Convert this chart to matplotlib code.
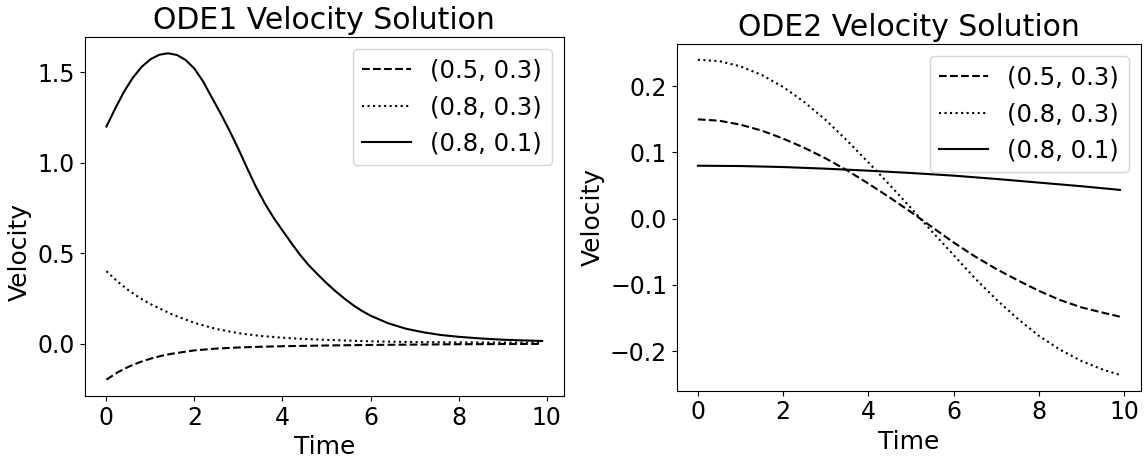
import matplotlib
matplotlib.use("Agg")
import matplotlib.pyplot as plt

# ---------------- data ----------------
labels = ["(0.5, 0.3)", "(0.8, 0.3)", "(0.8, 0.1)"]
styles = ["--", ":", "-"]

# ODE1
t1_a = [0, 0.25, 0.5, 0.75, 1.0, 1.25, 1.5, 2.0, 2.5, 3.0, 3.5, 4.0, 5.0,
        6.0, 7.0, 8.0, 9.0, 9.9]
v1_a = [-0.200, -0.160, -0.129, -0.104, -0.084, -0.068, -0.056, -0.038,
        -0.028, -0.022, -0.018, -0.015, -0.011, -0.008, -0.006, -0.004,
        -0.003, -0.002]
t1_b = [0, 0.25, 0.5, 0.75, 1.0, 1.5, 2.0, 2.5, 3.0, 3.5, 4.0, 4.5, 5.0,
        6.0, 7.0, 8.0, 9.0, 9.9]
v1_b = [0.400, 0.343, 0.295, 0.253, 0.218, 0.160, 0.114, 0.080, 0.057,
        0.042, 0.032, 0.025, 0.020, 0.012, 0.008, 0.006, 0.005, 0.005]
t1_c = [0.0, 0.2, 0.4, 0.6, 0.8, 1.0, 1.2, 1.4, 1.6, 1.8, 2.0, 2.2, 2.4,
        2.6, 2.8, 3.0, 3.2, 3.4, 3.6, 3.8, 4.0, 4.2, 4.4, 4.6, 4.8, 5.0,
        5.2, 5.4, 5.6, 5.8, 6.0, 6.4, 6.8, 7.2, 7.6, 8.0, 8.5, 9.0, 9.5, 9.9]
v1_c = [1.200, 1.300, 1.393, 1.470, 1.530, 1.572, 1.597, 1.605, 1.596,
        1.568, 1.520, 1.448, 1.358, 1.270, 1.175, 1.075, 0.968, 0.865,
        0.774, 0.695, 0.625, 0.556, 0.490, 0.432, 0.382, 0.334, 0.290,
        0.250, 0.213, 0.181, 0.154, 0.112, 0.082, 0.062, 0.047, 0.037,
        0.028, 0.021, 0.017, 0.014]

# ODE2
t2 = [0, 0.5, 1.0, 1.5, 2.0, 2.5, 3.0, 3.5, 4.0, 4.5, 5.0, 5.5, 6.0, 6.5,
      7.0, 7.5, 8.0, 8.5, 9.0, 9.5, 9.9]
v2_a = [0.150, 0.148, 0.142, 0.133, 0.121, 0.107, 0.091, 0.073, 0.053,
        0.032, 0.010, -0.013, -0.036, -0.057, -0.076, -0.093, -0.109,
        -0.123, -0.134, -0.142, -0.148]
v2_b = [0.240, 0.238, 0.230, 0.217, 0.199, 0.176, 0.149, 0.118, 0.085,
        0.051, 0.016, -0.020, -0.055, -0.090, -0.122, -0.151, -0.177,
        -0.198, -0.215, -0.228, -0.236]
t2_c = [0, 1, 2, 3, 4, 5, 6, 7, 8, 9, 9.9]
v2_c = [0.0800, 0.0795, 0.0780, 0.0755, 0.0725, 0.0690, 0.0650, 0.0600,
        0.0545, 0.0490, 0.0435]

titles = ["ODE1 Velocity Solution", "ODE2 Velocity Solution"]

# ---------------- figure ----------------
fig = plt.figure(figsize=(11.47, 4.59), dpi=100)
ax1 = fig.add_axes([0.0738, 0.1373, 0.4179, 0.7821])
ax2 = fig.add_axes([0.5900, 0.1488, 0.4048, 0.7553])

series1 = [(t1_a, v1_a), (t1_b, v1_b), (t1_c, v1_c)]
series2 = [(t2, v2_a), (t2, v2_b), (t2_c, v2_c)]

for ax, series, title in [(ax1, series1, titles[0]), (ax2, series2, titles[1])]:
    for (t, v), ls, lab in zip(series, styles, labels):
        ax.plot(t, v, ls, color="black", lw=1.5, label=lab)
    ax.set_title(title, fontsize=21.5)
    ax.set_xlabel("Time", fontsize=18)
    ax.set_ylabel("Velocity", fontsize=18)
    ax.tick_params(labelsize=17)
    ax.set_xticks([0, 2, 4, 6, 8, 10])
    ax.legend(loc="upper right", fontsize=17.5)

ax1.set_yticks([0.0, 0.5, 1.0, 1.5])
ax2.set_yticks([-0.2, -0.1, 0.0, 0.1, 0.2])
ax1.yaxis.set_label_coords(-0.11, 0.40)

fig.savefig("out.png", dpi=100)
